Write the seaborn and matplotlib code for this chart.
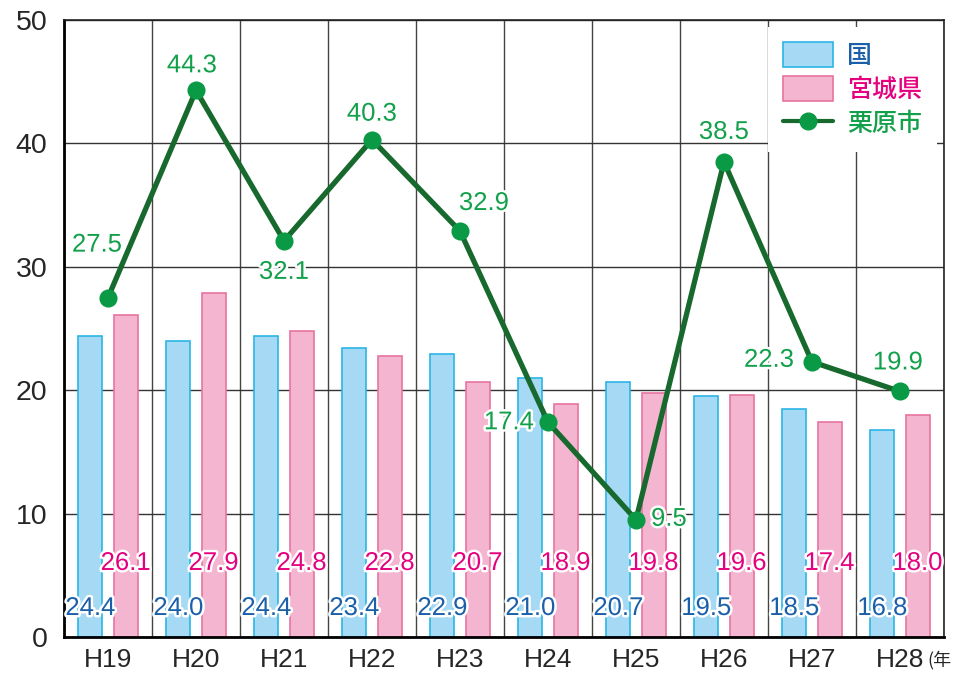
import matplotlib
matplotlib.use("Agg")
import matplotlib.pyplot as plt
import matplotlib.patheffects as pe
from matplotlib.lines import Line2D
from matplotlib.patches import Patch
import numpy as np
import pandas as pd
import seaborn as sns

years = ["H19", "H20", "H21", "H22", "H23", "H24", "H25", "H26", "H27", "H28"]
kuni = [24.4, 24.0, 24.4, 23.4, 22.9, 21.0, 20.7, 19.5, 18.5, 16.8]
miyagi = [26.1, 27.9, 24.8, 22.8, 20.7, 18.9, 19.8, 19.6, 17.4, 18.0]
kurihara = [27.5, 44.3, 32.1, 40.3, 32.9, 17.4, 9.5, 38.5, 22.3, 19.9]
series_names = ["国", "宮城県", "栗原市"]

# label offsets for the 栗原市 values, in pixels
green_offsets = [(-11, 53), (-4, 25), (0, -31), (0, 26), (24, 28),
                 (-39, 0), (33, 1), (0, 30), (-43, 2), (-2, 29)]

BLUE_FILL, BLUE_EDGE, BLUE_TXT = "#a6d9f3", "#2ab5e6", "#1b5fa8"
PINK_FILL, PINK_EDGE, PINK_TXT = "#f3b5cf", "#e8739f", "#e4007f"
GREEN_LINE, GREEN_DOT, GREEN_TXT = "#17692e", "#0a9a45", "#13a04b"

sns.set_style("white")
plt.rcParams["font.family"] = ["Liberation Sans", "Noto Sans CJK JP", "DejaVu Sans"]

bars_df = pd.DataFrame({
    "year": years * 2,
    "value": kuni + miyagi,
    "series": [series_names[0]] * len(years) + [series_names[1]] * len(years),
})

fig = plt.figure(figsize=(9.54, 6.75), dpi=100)
ax = fig.add_axes([0.0671, 0.0563, 0.9224, 0.9141])

sns.barplot(bars_df, x="year", y="value", hue="series",
            palette=[BLUE_FILL, PINK_FILL], saturation=1, width=0.8, gap=0.32,
            legend=False, ax=ax, zorder=2)
for patch in ax.containers[0]:
    patch.set_edgecolor(BLUE_EDGE)
    patch.set_linewidth(1.2)
for patch in ax.containers[1]:
    patch.set_edgecolor(PINK_EDGE)
    patch.set_linewidth(1.2)

sns.pointplot(x=years, y=kurihara, color=GREEN_LINE, markers="", linewidth=3.8,
              ax=ax, zorder=4)
sns.pointplot(x=years, y=kurihara, color=GREEN_DOT, markers="o", linestyles="none",
              markersize=11, ax=ax, zorder=5)

stroke = [pe.withStroke(linewidth=3.5, foreground="white")]
for container, vals, col, ypos in [(ax.containers[0], kuni, BLUE_TXT, 2.35),
                                   (ax.containers[1], miyagi, PINK_TXT, 6.0)]:
    for patch, v in zip(container, vals):
        cx = patch.get_x() + patch.get_width() / 2
        ax.text(cx, ypos, f"{v:.1f}", color=col, fontsize=18.5, ha="center",
                va="center", path_effects=stroke, zorder=6)

for i, (v, off) in enumerate(zip(kurihara, green_offsets)):
    ax.annotate(f"{v:.1f}", (i, v), xytext=off, textcoords="offset pixels",
                color=GREEN_TXT, fontsize=18.5, ha="center", va="center",
                path_effects=stroke, zorder=6)

ax.set_ylim(0, 50)
ax.set_xlim(-0.5, len(years) - 0.5)
ax.set_yticks(np.arange(0, 51, 10))
ax.set_xticks(np.arange(len(years)), years)
ax.set_xticks(np.arange(len(years) + 1) - 0.5, minor=True)
ax.grid(axis="y", which="major", color="#333333", linewidth=1, zorder=0)
ax.grid(axis="x", which="minor", color="#444444", linewidth=1, zorder=0)
ax.grid(axis="x", which="major", visible=False)
ax.set_axisbelow(True)
ax.tick_params(axis="both", which="both", length=0)
ax.tick_params(axis="y", labelsize=20.5, pad=12)
ax.tick_params(axis="x", labelsize=19, pad=8)
ax.set_xlabel("")
ax.set_ylabel("")
for side in ["left", "bottom"]:
    ax.spines[side].set_linewidth(2)
    ax.spines[side].set_color("black")
for side in ["top", "right"]:
    ax.spines[side].set_linewidth(1.2)
    ax.spines[side].set_color("#222222")

handles = [
    Patch(facecolor=BLUE_FILL, edgecolor=BLUE_EDGE, linewidth=1.2),
    Patch(facecolor=PINK_FILL, edgecolor=PINK_EDGE, linewidth=1.2),
    Line2D([], [], color=GREEN_LINE, linewidth=3.0, marker="o",
           markerfacecolor=GREEN_DOT, markeredgecolor=GREEN_DOT, markersize=12),
]
leg = ax.legend(handles, series_names, loc="upper right", bbox_to_anchor=(0.998, 0.997),
                frameon=True, facecolor="white", edgecolor="none", framealpha=1,
                fancybox=False, handlelength=2.0, handleheight=1.15, labelspacing=0.3,
                borderpad=0.6, handletextpad=0.55, borderaxespad=0.2,
                prop={"family": "Noto Sans CJK JP", "size": 18, "weight": "medium"})
leg.set_zorder(7)
for txt, col in zip(leg.get_texts(), [BLUE_TXT, PINK_TXT, GREEN_TXT]):
    txt.set_color(col)

fig.text(952 / 954, 1 - 660 / 675, "(年", fontsize=13, ha="right", va="center",
         family=["Noto Sans CJK JP", "DejaVu Sans"])

fig.savefig("out.png", dpi=100)
